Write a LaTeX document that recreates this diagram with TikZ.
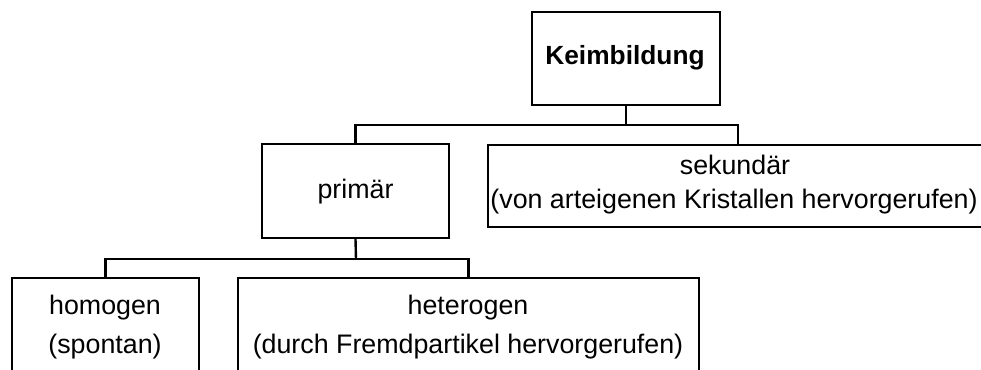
\documentclass[tikz,border=0pt]{standalone}
\usepackage{fontspec}
\setmainfont{Liberation Sans}
\begin{document}
\begin{tikzpicture}[x=1pt,y=-1pt,
  box/.style={draw=black,line width=2.4pt,rectangle,inner sep=0pt,fill=white},
  txt/.style={anchor=base,inner sep=0pt,font=\fontsize{26.8}{30}\selectfont},
  conn/.style={draw=black,line width=2.4pt}]
\useasboundingbox (0,0) rectangle (981,369);
\clip (0,0) rectangle (981,369);
% boxes
\node[box,minimum width=188pt,minimum height=93pt] (keim) at (626,58.5) {};
\node[box,minimum width=187pt,minimum height=94pt] (prim) at (355.5,191) {};
\node[box,minimum width=500pt,minimum height=82pt] (sek) at (738,186) {};
\node[box,minimum width=187pt,minimum height=122pt] (homo) at (105.5,339) {};
\node[box,minimum width=461pt,minimum height=122pt] (hete) at (468.5,339) {};
% texts
\node[txt,font=\fontsize{26.3}{30}\selectfont\bfseries] (tkeim) at (625,64) {Keimbildung};
\node[txt] (tprim) at (355.5,198.5) {primär};
\node[txt] (tsek1) at (735,174) {sekundär};
\node[txt] (tsek2) at (734,208) {(von arteigenen Kristallen hervorgerufen)};
\node[txt] (thomo1) at (105,314) {homogen};
\node[txt] (thomo2) at (105,353.5) {(spontan)};
\node[txt] (thete1) at (468,314) {heterogen};
\node[txt] (thete2) at (468,353.5) {(durch Fremdpartikel hervorgerufen)};
% connectors
\coordinate (j1) at (626,125);
\coordinate (j2) at (356,259);
\draw[conn] (keim.south) -- (j1);
\draw[conn] (prim.north) |- (j1) -| (sek.north);
\draw[conn] (prim.south) -- (j2);
\draw[conn] (homo.north) |- (j2) -| (hete.north);
\end{tikzpicture}
\end{document}
